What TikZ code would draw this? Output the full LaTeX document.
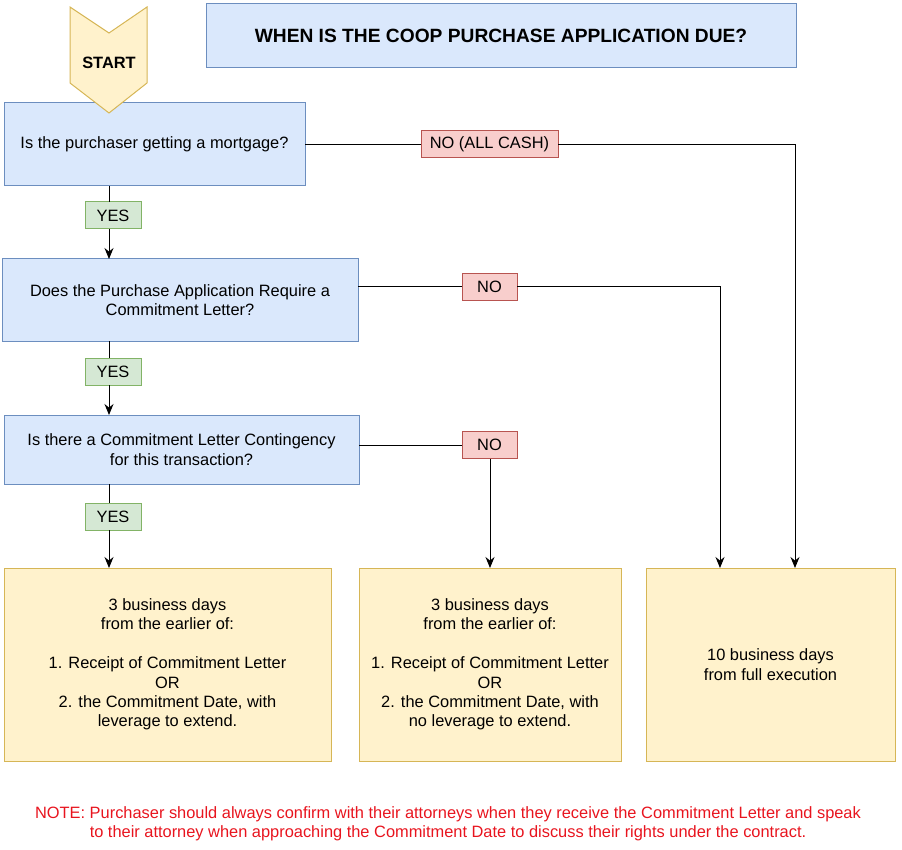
\documentclass[tikz,border=0pt]{standalone}
\usepackage{fontspec}
\setmainfont{Liberation Sans}
\usetikzlibrary{arrows.meta}
\definecolor{bfill}{HTML}{DAE8FC}\definecolor{bdraw}{HTML}{6C8EBF}
\definecolor{yfill}{HTML}{FFF2CC}\definecolor{ydraw}{HTML}{D6B656}
\definecolor{gfill}{HTML}{D5E8D4}\definecolor{gdraw}{HTML}{82B366}
\definecolor{rfill}{HTML}{F8CECC}\definecolor{rdraw}{HTML}{B85450}
\definecolor{notered}{HTML}{E8141E}
\begin{document}
\begin{tikzpicture}[x=1pt,y=-1pt,
  base/.style={inner sep=0pt,outer sep=0pt,line width=1pt,align=center,
    font=\fontsize{16.4}{19.4}\selectfont},
  qbox/.style={base,draw=bdraw,fill=bfill,anchor=north west},
  abox/.style={base,draw=ydraw,fill=yfill,anchor=north west},
  yeslbl/.style={base,draw=gdraw,fill=gfill,minimum width=56pt,minimum height=27pt},
  nolbl/.style={base,draw=rdraw,fill=rfill,minimum height=27pt},
  conn/.style={line width=1pt},
  arr/.style={line width=1pt,-{Stealth[length=11pt,width=9pt]}}]
\useasboundingbox (0,0) rectangle (902,850);
% title
\node[qbox,minimum width=590pt,minimum height=64pt,font=\fontsize{19.2}{22}\selectfont\bfseries] (title) at (206,4) {WHEN IS THE COOP PURCHASE APPLICATION DUE?};
% questions
\node[qbox,minimum width=301pt,minimum height=83pt] (q1) at (4,103) {Is the purchaser getting a mortgage?};
\node[qbox,minimum width=356pt,minimum height=82pt] (q2) at (2,259) {Does the Purchase Application Require a\\Commitment Letter?};
\node[qbox,minimum width=355pt,minimum height=69pt] (q3) at (4,415) {Is there a Commitment Letter Contingency\\for this transaction?};
% answers
\node[abox,minimum width=327pt,minimum height=193pt] (a1) at (4,568) {3 business days\\ from the earlier of:\\[19.4pt]1. Receipt of Commitment Letter\\OR\\2. the Commitment Date, with\\leverage to extend.};
\node[abox,minimum width=262pt,minimum height=193pt] (a2) at (359,568) {3 business days\\ from the earlier of:\\[19.4pt]1. Receipt of Commitment Letter\\OR\\2. the Commitment Date, with\\no leverage to extend.};
\node[abox,minimum width=249pt,minimum height=193pt] (a3) at (646,568) {10 business days\\ from full execution};
% start chevron
\path[base,draw=ydraw,fill=yfill] (70,7) -- (109,33) -- (147,7) -- (147,83) -- (109,113) -- (70,83) -- cycle;
\node[base,font=\fontsize{16.4}{19}\selectfont\bfseries] (start) at (109,63) {START};
% labels
\node[nolbl,minimum width=137pt] (n1) at (489.5,144.5) {NO (ALL CASH)};
\node[nolbl,minimum width=55pt] (n2) at (489.5,287) {NO};
\node[nolbl,minimum width=55pt] (n3) at (489.5,445) {NO};
\node[yeslbl] (y1) at (113,215.5) {YES};
\node[yeslbl] (y2) at (113,371.5) {YES};
\node[yeslbl] (y3) at (113,516.5) {YES};
% connectors
\draw[conn] (q1.east) -- (n1.west);
\draw[arr] (n1.east) -| (795,0 |- a3.north);
\draw[conn] (q2.east |- n2.west) -- (n2.west);
\draw[arr] (n2.east) -| (720,0 |- a3.north);
\draw[conn] (q3.east |- n3.west) -- (n3.west);
\draw[arr] (n3.south -| 490,0) -- (490,0 |- a2.north);
\draw[conn] (109,0 |- q1.south) -- (109,0 |- y1.north);
\draw[arr] (109,0 |- y1.south) -- (109,0 |- q2.north);
\draw[conn] (109,0 |- q2.south) -- (109,0 |- y2.north);
\draw[arr] (109,0 |- y2.south) -- (109,0 |- q3.north);
\draw[conn] (109,0 |- q3.south) -- (109,0 |- y3.north);
\draw[arr] (109,0 |- y3.south) -- (109,0 |- a1.north);
% note
\node[base,text=notered,font=\fontsize{16.4}{19}\selectfont] (note) at (448,823.5) {NOTE: Purchaser should always confirm with their attorneys when they receive the Commitment Letter and speak\\to their attorney when approaching the Commitment Date to discuss their rights under the contract.};
\end{tikzpicture}
\end{document}
